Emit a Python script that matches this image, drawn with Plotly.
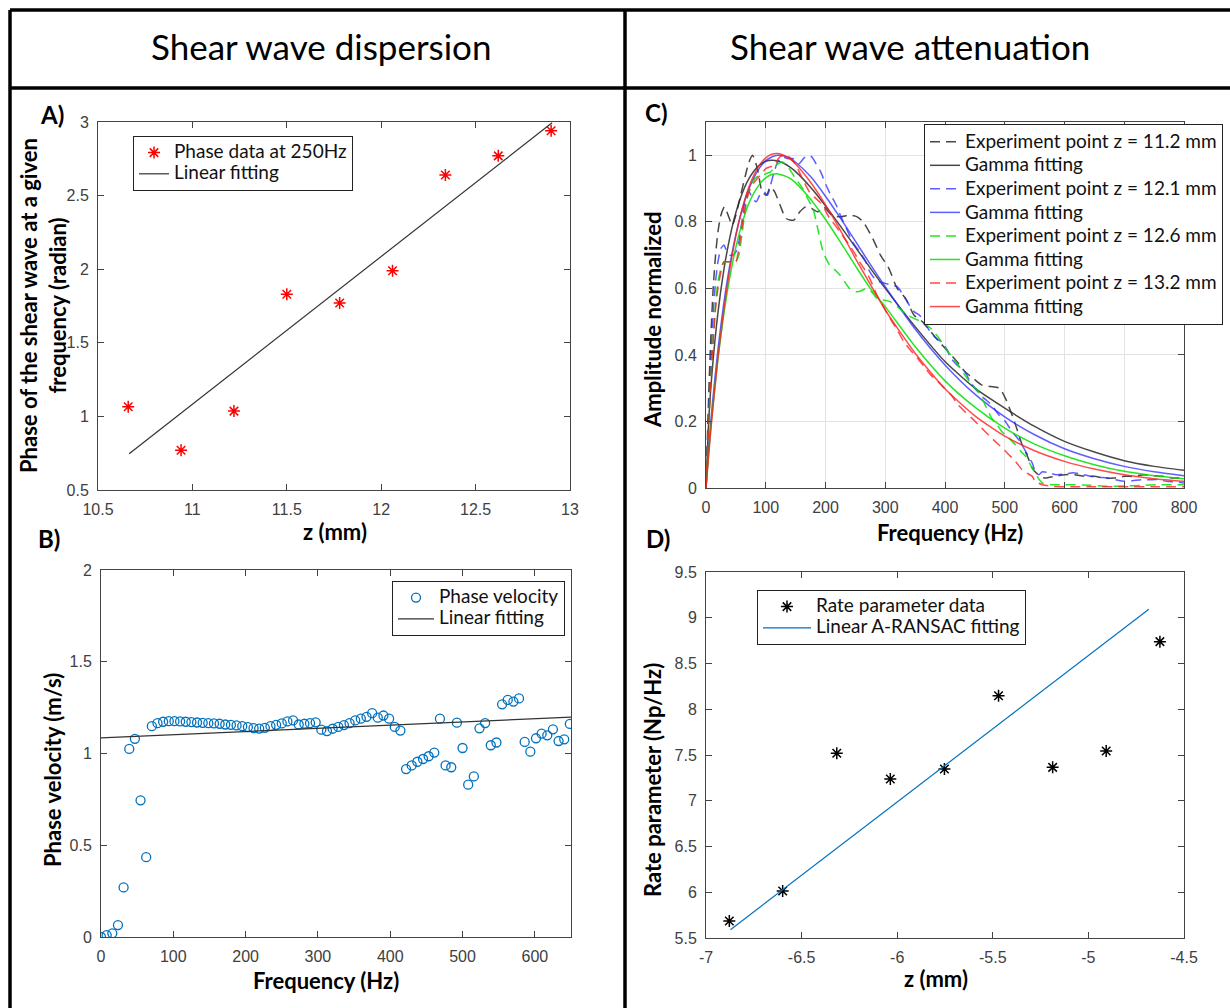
import plotly.graph_objects as go

# ---------------- Data ----------------
# Panel A: phase at 250 Hz vs depth
a_z = [10.66, 10.94, 11.22, 11.50, 11.78, 12.06, 12.34, 12.62, 12.90]
a_phase = [1.065, 0.77, 1.036, 1.83, 1.77, 1.99, 2.64, 2.77, 2.94]
a_fit_z = [10.665, 12.905]
a_fit_phase = [0.746, 2.995]

# Panel B: phase velocity vs frequency
b_step = 7.8125
b_vel = [0.0, 0.01, 0.02, 0.065, 0.27, 1.025, 1.08, 0.745, 0.435,
         1.149, 1.165, 1.173, 1.176, 1.176, 1.175, 1.173, 1.171, 1.169, 1.167,
         1.165, 1.164, 1.162, 1.158, 1.156, 1.153, 1.149, 1.144, 1.138, 1.136,
         1.14, 1.149, 1.156, 1.164, 1.175, 1.18, 1.158, 1.162, 1.165, 1.17,
         1.13, 1.122, 1.135, 1.145, 1.155, 1.165, 1.18, 1.19, 1.20, 1.22,
         1.195, 1.207, 1.19, 1.145, 1.125,
         0.915, 0.935, 0.955, 0.97, 0.985, 1.005, 1.19, 0.935, 0.925, 1.168,
         1.03, 0.83, 0.875, 1.137, 1.166, 1.045, 1.06, 1.268, 1.292, 1.283,
         1.30, 1.063, 1.01, 1.083, 1.108, 1.099, 1.132, 1.068, 1.077, 1.161]
b_freq = [round(i * b_step, 4) for i in range(len(b_vel))]
b_fit_freq = [0, 650]
b_fit_vel = [1.085, 1.198]

# Panel C: normalized amplitude spectra and gamma fits
c_fit_f = [0, 5, 10, 20, 30, 40, 50, 60, 70, 80, 90, 100, 110, 120, 130, 140, 150,
           175, 200, 225, 250, 275, 300, 350, 400, 450, 500, 550, 600, 650, 700, 750, 800]
c_fit_112 = [0, 0.219, 0.345, 0.527, 0.657, 0.754, 0.828, 0.883, 0.924, 0.952, 0.971,
             0.982, 0.985, 0.983, 0.976, 0.965, 0.951, 0.904, 0.848, 0.787, 0.724,
             0.661, 0.600, 0.485, 0.38, 0.30, 0.24, 0.185, 0.14, 0.108, 0.082, 0.065, 0.053]
c_fit_121 = [0, 0.134, 0.241, 0.417, 0.558, 0.671, 0.762, 0.834, 0.890, 0.932, 0.963,
             0.984, 0.995, 1.0, 0.998, 0.991, 0.979, 0.936, 0.877, 0.811, 0.742,
             0.672, 0.605, 0.478, 0.37, 0.282, 0.214, 0.16, 0.118, 0.088, 0.065, 0.049, 0.037]
c_fit_126 = [0, 0.119, 0.219, 0.389, 0.525, 0.635, 0.724, 0.793, 0.848, 0.886, 0.914,
             0.932, 0.942, 0.944, 0.939, 0.931, 0.917, 0.868, 0.807, 0.739, 0.668,
             0.600, 0.545, 0.425, 0.322, 0.243, 0.18, 0.132, 0.097, 0.07, 0.05, 0.037, 0.028]
c_fit_132 = [0, 0.111, 0.212, 0.391, 0.538, 0.659, 0.758, 0.835, 0.896, 0.940, 0.972,
             0.992, 1.003, 1.005, 1.0, 0.990, 0.974, 0.919, 0.851, 0.774, 0.69,
             0.612, 0.535, 0.405, 0.298, 0.217, 0.156, 0.112, 0.08, 0.057, 0.04, 0.028, 0.02]

c_exp_112_f = [0, 4, 8, 12, 16, 20, 25, 31, 37, 44, 50, 58, 66, 72, 78, 86, 94, 101, 108,
               115, 124, 134, 147, 157, 167, 177, 187, 197, 210, 225, 240, 253, 263, 279,
               292, 306, 320, 334, 348, 362, 376, 390, 405, 420, 433, 447, 461, 476, 491,
               501, 510, 518, 529, 537, 546, 556, 566, 584, 600, 617, 633, 650, 667, 683,
               700, 716, 733, 749, 766, 782, 800]
c_exp_112 = [0, 0.25, 0.45, 0.6, 0.7, 0.77, 0.82, 0.845, 0.82, 0.79, 0.82, 0.88, 0.94,
             0.98, 1.0, 0.96, 0.89, 0.88, 0.905, 0.89, 0.85, 0.81, 0.805, 0.83, 0.845,
             0.84, 0.83, 0.845, 0.82, 0.815, 0.82, 0.815, 0.80, 0.75, 0.70, 0.66, 0.60,
             0.57, 0.52, 0.50, 0.47, 0.44, 0.41, 0.38, 0.35, 0.33, 0.31, 0.305, 0.30,
             0.27, 0.23, 0.19, 0.13, 0.10, 0.06, 0.04, 0.03, 0.035, 0.04, 0.04, 0.035,
             0.035, 0.03, 0.03, 0.035, 0.035, 0.04, 0.037, 0.035, 0.03, 0.03]

c_exp_121_f = [0, 4, 8, 12, 16, 20, 25, 30, 35, 40, 45, 50, 55, 60, 66, 72, 78, 84, 90, 97,
               103, 108, 114, 120, 128, 136, 145, 151, 156, 163, 170, 177, 184, 192, 201,
               209, 218, 226, 235, 245, 257, 266, 274, 282, 290, 300, 310, 320, 330, 340,
               348, 357, 365, 375, 385, 393, 402, 410, 420, 433, 442, 450, 465, 478, 490,
               501, 512, 524, 535, 546, 551, 557, 563, 575, 586, 600, 614, 628, 643, 657,
               671, 686, 700, 714, 729, 743, 757, 771, 786, 800]
c_exp_121 = [0, 0.2, 0.38, 0.52, 0.62, 0.68, 0.72, 0.73, 0.71, 0.70, 0.70, 0.71, 0.74,
             0.80, 0.87, 0.89, 0.87, 0.86, 0.88, 0.89, 0.88, 0.91, 0.95, 0.98, 0.995,
             0.99, 0.99, 0.985, 0.975, 0.99, 1.0, 0.995, 0.975, 0.95, 0.91, 0.88, 0.85,
             0.815, 0.78, 0.74, 0.71, 0.685, 0.65, 0.63, 0.62, 0.615, 0.61, 0.605, 0.58,
             0.55, 0.53, 0.52, 0.50, 0.47, 0.45, 0.44, 0.42, 0.39, 0.37, 0.35, 0.32,
             0.30, 0.27, 0.25, 0.22, 0.20, 0.17, 0.144, 0.11, 0.075, 0.05, 0.04, 0.049,
             0.045, 0.04, 0.042, 0.046, 0.042, 0.035, 0.032, 0.03, 0.025, 0.02, 0.022,
             0.025, 0.025, 0.025, 0.02, 0.018, 0.015]

c_exp_126_f = [0, 4, 8, 12, 16, 20, 25, 30, 35, 40, 45, 50, 55, 60, 66, 72, 78, 85, 94,
               101, 108, 117, 128, 139, 150, 162, 170, 179, 187, 196, 207, 216, 224, 232,
               240, 252, 260, 268, 277, 286, 297, 308, 320, 337, 348, 360, 376, 390, 405,
               420, 433, 445, 456, 467, 478, 487, 495, 507, 518, 527, 535, 546, 556, 563,
               580, 600, 614, 643, 671, 700, 729, 757, 786, 800]
c_exp_126 = [0, 0.18, 0.33, 0.45, 0.55, 0.62, 0.66, 0.68, 0.68, 0.68, 0.68, 0.68, 0.70,
             0.76, 0.84, 0.90, 0.92, 0.935, 0.94, 0.945, 0.95, 0.97, 0.98, 0.96, 0.93,
             0.90, 0.87, 0.84, 0.78, 0.71, 0.67, 0.655, 0.64, 0.62, 0.60, 0.59, 0.593,
             0.60, 0.59, 0.57, 0.565, 0.56, 0.545, 0.52, 0.51, 0.50, 0.48, 0.45, 0.41,
             0.375, 0.34, 0.31, 0.29, 0.25, 0.21, 0.19, 0.17, 0.15, 0.13, 0.11, 0.095,
             0.06, 0.03, 0.015, 0.01, 0.01, 0.01, 0.008, 0.005, 0.006, 0.008, 0.01, 0.01, 0.01]

c_exp_132_f = [0, 4, 8, 12, 16, 20, 25, 30, 35, 40, 45, 50, 55, 60, 66, 72, 79, 86, 93,
               100, 107, 114, 121, 128, 135, 142, 149, 156, 164, 173, 181, 190, 198, 207,
               216, 224, 232, 240, 249, 257, 266, 274, 286, 297, 308, 320, 331, 342, 354,
               365, 376, 388, 399, 410, 422, 433, 445, 456, 467, 478, 490, 499, 507, 518,
               529, 537, 546, 551, 563, 580, 600, 650, 700, 750, 800]
c_exp_132 = [0, 0.17, 0.32, 0.44, 0.54, 0.6, 0.65, 0.68, 0.68, 0.68, 0.68, 0.68, 0.72,
             0.78, 0.85, 0.89, 0.915, 0.93, 0.945, 0.96, 0.965, 0.97, 0.99, 1.0, 1.0,
             0.99, 0.975, 0.95, 0.92, 0.89, 0.875, 0.86, 0.84, 0.81, 0.79, 0.77, 0.75,
             0.73, 0.705, 0.68, 0.655, 0.63, 0.58, 0.545, 0.51, 0.475, 0.44, 0.415,
             0.39, 0.365, 0.34, 0.32, 0.30, 0.28, 0.25, 0.23, 0.21, 0.19, 0.17, 0.15,
             0.13, 0.115, 0.10, 0.08, 0.055, 0.045, 0.035, 0.02, 0.01, 0.005, 0.004,
             0.004, 0.004, 0.004, 0.004]

# Panel D: rate parameter vs depth
d_z = [-6.878, -6.599, -6.316, -6.036, -5.753, -5.470, -5.187, -4.907, -4.626]
d_rate = [5.686, 6.014, 7.52, 7.238, 7.347, 8.148, 7.365, 7.544, 8.739]
d_fit_z = [-6.872, -4.684]
d_fit_rate = [5.591, 9.092]
d_tickvals = [-7, -6.5, -6, -5.5, -5, -4.5]
d_ticktext = ["-7", "-6.5", "-6", "-5.5", "-5", "-4.5"]

# ---------------- Figure ----------------
W, H = 1230, 1008
LEG_FONT = "Lato, 'Open Sans', sans-serif"
TICK_FONT = dict(family="'Liberation Sans', Arial, sans-serif", size=16, color="#404040")


def lab(text, size=19):
    return f'<span style="font-size:{size}px">{text}</span>'


fig = go.Figure()

# Panel A
fig.add_trace(go.Scatter(x=a_z, y=a_phase, mode="markers", name=lab("Phase data at 250Hz"),
                         marker=dict(symbol="asterisk-open", size=10, color="red",
                                     line=dict(color="red", width=1.5)),
                         xaxis="x", yaxis="y", legend="legend"))
fig.add_trace(go.Scatter(x=a_fit_z, y=a_fit_phase, mode="lines", name=lab("Linear fitting"),
                         line=dict(color="#333333", width=1.2),
                         xaxis="x", yaxis="y", legend="legend"))

# Panel B
fig.add_trace(go.Scatter(x=b_freq, y=b_vel, mode="markers", name=lab("Phase velocity"),
                         marker=dict(symbol="circle-open", size=9, color="#0072BD",
                                     line=dict(color="#0072BD", width=1.3)),
                         xaxis="x2", yaxis="y2", legend="legend2"))
fig.add_trace(go.Scatter(x=b_fit_freq, y=b_fit_vel, mode="lines", name=lab("Linear fitting"),
                         line=dict(color="#333333", width=1.3),
                         xaxis="x2", yaxis="y2", legend="legend2"))

# Panel C
c_series = [
    ("Experiment point z = 11.2 mm", c_exp_112_f, c_exp_112, "rgba(40,40,40,0.85)", "10px,6px"),
    ("Gamma fitting", c_fit_f, c_fit_112, "rgba(40,40,40,0.85)", "solid"),
    ("Experiment point z = 12.1 mm", c_exp_121_f, c_exp_121, "rgba(40,40,255,0.75)", "10px,6px"),
    ("Gamma fitting", c_fit_f, c_fit_121, "rgba(40,40,255,0.75)", "solid"),
    ("Experiment point z = 12.6 mm", c_exp_126_f, c_exp_126, "rgba(0,225,0,0.85)", "10px,6px"),
    ("Gamma fitting", c_fit_f, c_fit_126, "rgba(0,225,0,0.85)", "solid"),
    ("Experiment point z = 13.2 mm", c_exp_132_f, c_exp_132, "rgba(255,30,30,0.8)", "10px,6px"),
    ("Gamma fitting", c_fit_f, c_fit_132, "rgba(255,30,30,0.8)", "solid"),
]
for name, fx, fy, col, dash in c_series:
    fig.add_trace(go.Scatter(x=fx, y=fy, mode="lines", name=lab(name, 19),
                             line=dict(color=col, width=1.5, dash=dash, shape="spline",
                                       smoothing=0.6),
                             xaxis="x3", yaxis="y3", legend="legend3"))

# Panel D
fig.add_trace(go.Scatter(x=d_z, y=d_rate, mode="markers", name=lab("Rate parameter data"),
                         marker=dict(symbol="asterisk-open", size=10, color="black",
                                     line=dict(color="black", width=1.5)),
                         xaxis="x4", yaxis="y4", legend="legend4"))
fig.add_trace(go.Scatter(x=d_fit_z, y=d_fit_rate, mode="lines",
                         name=lab("Linear A-RANSAC fitting"),
                         line=dict(color="#0072BD", width=1.2),
                         xaxis="x4", yaxis="y4", legend="legend4"))


def px_x(a, b):
    return [a / W, b / W]


def px_y(top, bottom):
    return [1 - bottom / H, 1 - top / H]


def ax(domain, rng, dtick, anchor, grid=False, **kw):
    d = dict(domain=domain, range=rng, dtick=dtick, anchor=anchor,
             showline=True, linecolor="#444444", linewidth=1, mirror="ticks",
             ticks="inside", ticklen=6, tickcolor="#444444", tickfont=TICK_FONT,
             ticklabelstandoff=5,
             showgrid=grid, gridcolor="#e3e3e3", gridwidth=1, zeroline=False,
             automargin=False, fixedrange=True)
    d.update(kw)
    return d


layout = dict(
    width=W, height=H, margin=dict(l=0, r=0, t=0, b=0, autoexpand=False),
    paper_bgcolor="white", plot_bgcolor="white", showlegend=True,
    xaxis=ax(px_x(98, 570), [10.5, 13], 0.5, "y"),
    yaxis=ax(px_y(122, 490), [0.5, 3], 0.5, "x"),
    xaxis2=ax(px_x(101, 571), [0, 650], 100, "y2"),
    yaxis2=ax(px_y(570, 937), [0, 2], 0.5, "x2"),
    xaxis3=ax(px_x(706, 1184), [0, 800], 100, "y3", grid=True),
    yaxis3=ax(px_y(122, 488), [0, 1.1], 0.2, "x3", grid=True),
    xaxis4=ax(px_x(706, 1184), [-7, -4.5], 0.5, "y4", tickmode="array",
              tickvals=d_tickvals, ticktext=d_ticktext),
    yaxis4=ax(px_y(572, 938), [5.5, 9.5], 0.5, "x4"),
)


def leg(x, y, size, itemwidth=30):
    return dict(x=x / W, y=1 - y / H, xanchor="left", yanchor="top",
                bgcolor="white", bordercolor="#222222", borderwidth=1,
                font=dict(family=LEG_FONT, size=size, color="#111111"),
                tracegroupgap=0, itemwidth=itemwidth, itemclick=False,
                itemdoubleclick=False)


layout["legend"] = leg(133, 136, 14, 30)
layout["legend2"] = leg(392, 581, 14, 36)
layout["legend3"] = leg(924, 124, 15.8, 30)
layout["legend4"] = leg(757, 590, 14, 48)
fig.update_layout(**layout)

# Table frame lines
LW = 3.5
frame = [
    (10, 10, 1230, 10),
    (10, 88, 1230, 88),
    (10, 10, 10, 1008),
    (625, 10, 625, 1008),
]
for x0, y0, x1, y1 in frame:
    fig.add_shape(type="line", xref="paper", yref="paper",
                  x0=x0 / W, x1=x1 / W, y0=1 - y0 / H, y1=1 - y1 / H,
                  line=dict(color="black", width=LW))


def ann(text, x, y, size=22, angle=0, bold=True, family=LEG_FONT):
    t = f"<b>{text}</b>" if bold else text
    fig.add_annotation(text=t, x=x / W, y=1 - y / H, xref="paper", yref="paper",
                       showarrow=False, textangle=angle, xanchor="center", yanchor="middle",
                       font=dict(family=family, size=size, color="black"))


# Headers
ann("Shear wave dispersion", 321, 46, size=35, bold=False)
ann("Shear wave attenuation", 910, 46, size=35, bold=False)

# Panel labels
ann("A)", 52, 114, size=24)
ann("B)", 49, 538, size=24)
ann("C)", 656, 112, size=24)
ann("D)", 658, 538, size=24)

# Axis titles
ann("z (mm)", 335, 531)
ann("Phase of the shear wave at a given<br>frequency (radian)", 43, 306, angle=-90)
ann("Frequency (Hz)", 326, 980)
ann("Phase velocity (m/s)", 52, 770, angle=-90)
ann("Frequency (Hz)", 950, 532)
ann("Amplitude normalized", 652, 320, angle=-90)
ann("z (mm)", 936, 978)
ann("Rate parameter (Np/Hz)", 652, 780, angle=-90)

fig.write_html("out.html")
